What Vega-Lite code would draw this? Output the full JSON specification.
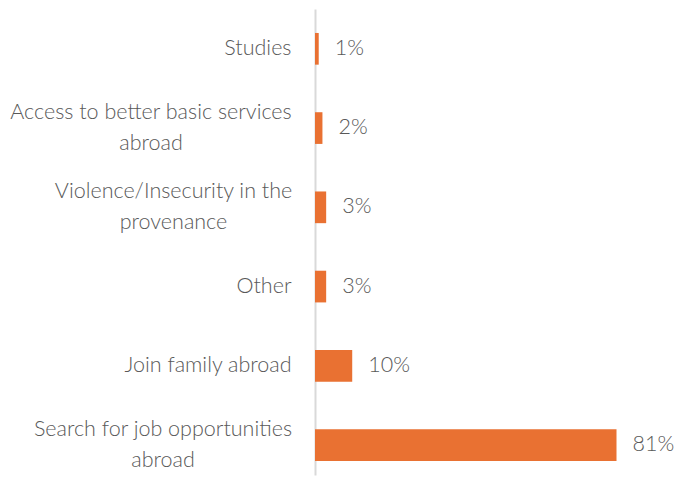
{
  "$schema": "https://vega.github.io/schema/vega-lite/v6.json",
  "width": 335,
  "height": 466,
  "autosize": "none",
  "padding": {"left": 315, "top": 9, "right": 26, "bottom": 2},
  "background": "white",
  "data": {
    "values": [
      {"reason": "Studies", "share": 0.01},
      {"reason": "Access to better basic services|abroad", "share": 0.02},
      {"reason": "Violence/Insecurity in the|provenance", "share": 0.03},
      {"reason": "Other", "share": 0.03},
      {"reason": "Join family abroad", "share": 0.10},
      {"reason": "Search for job opportunities|abroad", "share": 0.81}
    ]
  },
  "encoding": {
    "y": {
      "field": "reason",
      "type": "nominal",
      "sort": null,
      "scale": {"paddingInner": 0.6, "paddingOuter": 0.24, "align": 0.63},
      "axis": {
        "title": null,
        "ticks": false,
        "domainColor": "#D9D9D9",
        "domainWidth": 2,
        "labelFont": "Lato",
        "labelFontWeight": 300,
        "labelFontSize": 21.5,
        "labelColor": "#595959",
        "labelLineHeight": 31,
        "labelLimit": 320,
        "labelAlign": {"condition": {"test": "indexof(datum.value, '|') >= 0", "value": "center"}, "value": "right"},
        "labelPadding": {
          "condition": [
            {"test": "indexof(datum.value, 'Access') == 0", "value": 164.5},
            {"test": "indexof(datum.value, 'Violence') == 0", "value": 142},
            {"test": "indexof(datum.value, 'Search') == 0", "value": 152.5}
          ],
          "value": 24
        },
        "labelOffset": {"condition": {"test": "indexof(datum.value, '|') >= 0", "value": -15.5}, "value": 0},
        "labelExpr": "split(datum.value, '|')"
      }
    },
    "x": {
      "field": "share",
      "type": "quantitative",
      "scale": {"domain": [0, 0.9]},
      "axis": null
    }
  },
  "layer": [
    {"mark": {"type": "bar", "color": "#E97132"}},
    {
      "mark": {"type": "text", "align": "left", "dx": 16, "font": "Lato", "fontWeight": 300, "fontSize": 21.5, "color": "#595959"},
      "encoding": {"text": {"field": "share", "type": "quantitative", "format": ".0%"}}
    }
  ],
  "config": {"view": {"stroke": null}}
}
